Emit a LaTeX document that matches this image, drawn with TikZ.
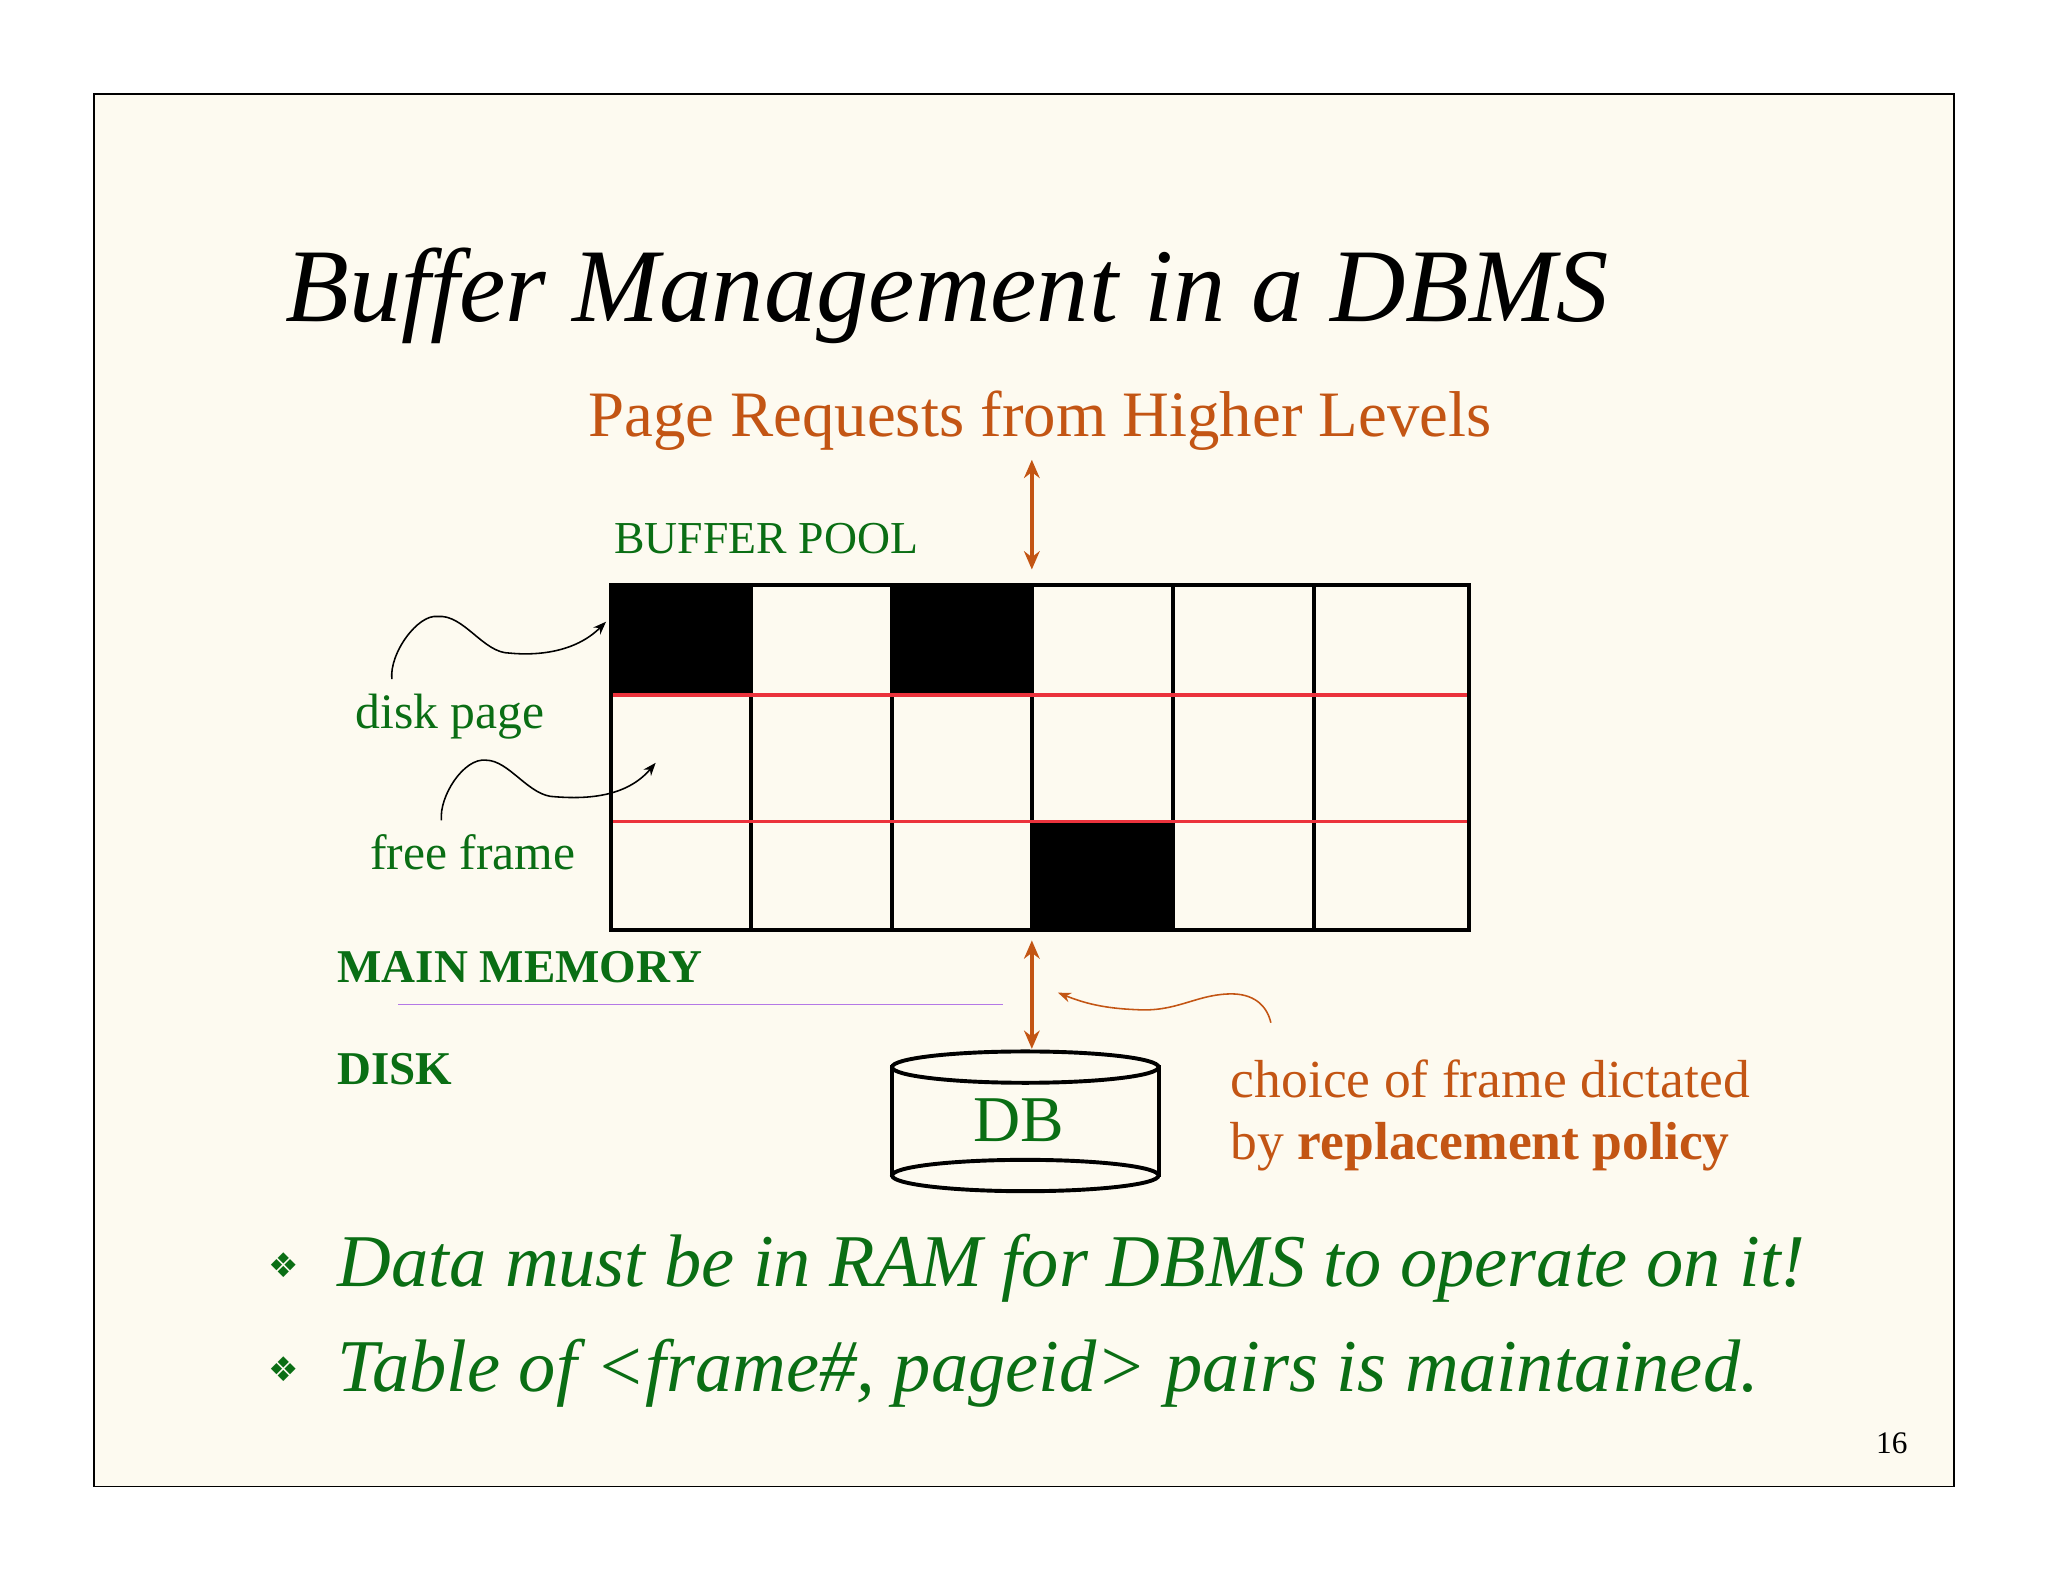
\documentclass[tikz,border=0pt]{standalone}
\usepackage{fontspec}
\setmainfont{Liberation Serif}
\newfontfamily\djv{DejaVu Sans}
\usetikzlibrary{shapes.geometric,arrows.meta}
\definecolor{cream}{RGB}{253,250,240}
\definecolor{dg}{RGB}{10,110,20}
\definecolor{or}{RGB}{195,85,20}
\definecolor{rl}{RGB}{235,50,60}
\definecolor{pu}{RGB}{180,120,230}
\begin{document}
\begin{tikzpicture}[x=0.5pt,y=-0.5pt,
  txt/.style={anchor=base west,inner sep=0},
  arr/.style={or,line width=1.4pt,{Stealth[length=7pt,width=6pt]}-{Stealth[length=7pt,width=6pt]}},
  sq/.style={line width=0.6pt,-{Stealth[length=5pt]}}]
\useasboundingbox (0,0) rectangle (1568,1211);
\draw[fill=cream,line width=0.5pt] (72,72) rectangle (1496,1138);
\node[txt,font=\fontsize{40}{42}\selectfont\itshape] (title) at (218,246) {Buffer Management in a DBMS};
\node[txt,or,font=\fontsize{24.8}{26}\selectfont] (req) at (450,334) {Page Requests from Higher Levels};
\node[txt,dg,font=\fontsize{17.5}{18}\selectfont] (bp) at (470,424) {BUFFER POOL};
% grid
\fill (468,448) rectangle (575,532);
\fill (683,448) rectangle (790,532);
\fill (790,629) rectangle (898,712);
\foreach \x in {575,683,790,898,1006} \draw[line width=1.3pt] (\x,448) -- (\x,712);
\draw[rl,line width=1.3pt] (468,532) -- (1125,532);
\draw[rl,line width=1.3pt] (468,629) -- (1125,629);
\draw[line width=1.5pt] (468,448) rectangle (1125,712);
\coordinate (gt) at (790,436); \coordinate (rt) at (790,352);
\draw[arr] (rt) -- (gt);
\coordinate (gb) at (790,720); \coordinate (dbt) at (790,803);
\draw[arr] (gb) -- (dbt);
% labels
\node[txt,dg,font=\fontsize{19}{20}\selectfont] (dp) at (272,558) {disk page};
\node[txt,dg,font=\fontsize{19}{20}\selectfont] (ff) at (283,666) {free frame};
\coordinate (c1) at (464,476); \coordinate (c2) at (502,584);
\draw[sq] (300,520) .. controls (298,500) and (320,470) .. (335,472) .. controls (355,470) and (370,500) .. (390,500) .. controls (410,502) and (440,500) .. (c1);
\draw[sq] (338,628) .. controls (336,610) and (355,580) .. (372,582) .. controls (390,582) and (405,610) .. (425,610) .. controls (450,612) and (480,610) .. (c2);
\node[txt,dg,font=\fontsize{18}{19}\selectfont\bfseries] (mm) at (258,752) {MAIN MEMORY};
\node[txt,dg,font=\fontsize{18}{19}\selectfont\bfseries] (dk) at (258,830) {DISK};
\draw[pu,line width=0.7pt] (305,769) -- (768,769);
% cylinder
\draw[line width=1.5pt,fill=cream] (683,817) rectangle (887,900);
\draw[line width=1.5pt,fill=cream] (785,900) ellipse (102 and 12);
\draw[line width=1.5pt,fill=cream] (785,817) ellipse (102 and 12);
\draw[line width=1.5pt] (683,817) -- (683,900) (887,817) -- (887,900);
\node[dg,font=\fontsize{25}{26}\selectfont] (db) at (780,858) {DB};
\coordinate (ch) at (810,760);
\draw[sq,or] (973,783) .. controls (970,770) and (960,760) .. (940,761) .. controls (915,762) and (900,775) .. (870,773) .. controls (845,772) and (830,768) .. (ch);
\node[txt,or,font=\fontsize{20.5}{21}\selectfont] (ch1) at (942,840) {choice of frame dictated};
\node[txt,or,font=\fontsize{20.5}{21}\selectfont] (ch2) at (942,888) {by \textbf{replacement policy}};
\node[txt,dg,font=\fontsize{13}{16}\djv] (b1) at (205,978) {❖};
\node[txt,dg,font=\fontsize{13}{16}\djv] (b2) at (205,1058) {❖};
\node[txt,dg,font=\fontsize{28.5}{30}\selectfont\itshape] (t1) at (258,985) {Data must be in RAM for DBMS to operate on it!};
\node[txt,dg,font=\fontsize{28.5}{30}\selectfont\itshape] (t2) at (258,1065) {Table of <frame\#, pageid> pairs is maintained.};
\node[txt,font=\fontsize{12}{14}\selectfont] (pn) at (1436,1113) {16};
\end{tikzpicture}
\end{document}
